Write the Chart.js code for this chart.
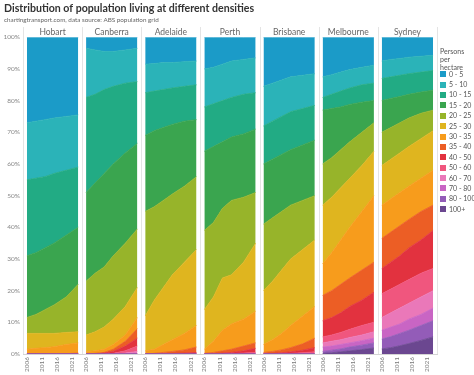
<!DOCTYPE html>
<html>
<head>
<meta charset="utf-8">
<script src="https://cdn.jsdelivr.net/npm/chart.js@4/dist/chart.umd.min.js"></script>
<style>
  body { margin: 0; background: #fff; }
  #wrap { position: relative; width: 474px; height: 375px; }
  #legend { position: absolute; left: 440px; top: 46.7px; font-family: Lato, sans-serif; font-size: 7px; color: #555; }
  #legend .ttl { line-height: 8px; margin-bottom: -2px; }
  #legend .row { height: 10.4px; line-height: 10.4px; white-space: nowrap; }
  #legend .sw { display: inline-block; width: 6px; height: 6px; margin-right: 3px; vertical-align: -0.5px; }
</style>
</head>
<body>
<div id="wrap">
  <canvas id="chart" width="474" height="375"></canvas>
  <div id="legend"></div>
</div>
<script>
var cities = ['Hobart', 'Canberra', 'Adelaide', 'Perth', 'Brisbane', 'Melbourne', 'Sydney'];
var bands = ['0 - 5', '5 - 10', '10 - 15', '15 - 20', '20 - 25', '25 - 30', '30 - 35', '35 - 40', '40 - 50', '50 - 60', '60 - 70', '70 - 80', '80 - 100', '100+'];
var bandColors = ['#1b9bc8', '#2bb3b8', '#22ab84', '#3aa54f', '#97b42a', '#dfb51f', '#f79c1c', '#ec5e25', '#e2323f', '#f0567e', '#ea78b9', '#c965c4', '#935cb8', '#6b4790'];
var years = [2006, 2009, 2012, 2015, 2019, 2023];
var yearTicks = ['2006', '2011', '2016', '2021'];

// % of population living above 5, 10, 15, 20, 25, 30, 35, 40, 50, 60, 70, 80, 100 persons/ha
var hobart = [
  [73, 73.5, 74, 74.5, 75, 75.5],
  [55, 55.5, 56, 57, 58, 59],
  [31, 32, 33.5, 35, 37.5, 40],
  [11.5, 12.5, 14, 15.5, 18, 22],
  [6.5, 6.5, 6.5, 6.5, 6.8, 7],
  [1.5, 1.8, 2, 2.3, 3, 3.5],
  [0, 0, 0, 0, 0.1, 0.3],
  [0, 0, 0, 0, 0, 0], [0, 0, 0, 0, 0, 0], [0, 0, 0, 0, 0, 0],
  [0, 0, 0, 0, 0, 0], [0, 0, 0, 0, 0, 0], [0, 0, 0, 0, 0, 0]
];
var canberra = [
  [96.5, 96, 95.5, 95.5, 96, 96.5],
  [81, 82, 83.5, 84.5, 85.5, 86],
  [51, 54, 57, 60, 63.5, 66.5],
  [23, 25.5, 27.5, 31, 35, 39.5],
  [6, 7, 8.5, 11, 15, 21],
  [0.8, 1, 1.5, 3, 6, 11.5],
  [0, 0.2, 0.5, 1.5, 4, 8],
  [0, 0, 0.3, 0.8, 2.5, 5],
  [0, 0, 0, 0.2, 1, 2.5],
  [0, 0, 0, 0, 0.3, 0.8],
  [0, 0, 0, 0, 0, 0], [0, 0, 0, 0, 0, 0], [0, 0, 0, 0, 0, 0]
];
var adelaide = [
  [91.5, 91.7, 92, 92, 92.3, 92.5],
  [82.5, 83, 83.5, 84, 84.5, 85],
  [69, 70.5, 71.5, 72.5, 73.5, 74],
  [45, 46.5, 48.5, 50.5, 53, 56],
  [12, 17, 21, 25, 29, 33],
  [1, 1.5, 3, 4.5, 6.5, 9],
  [0, 0.2, 0.5, 0.8, 1.3, 2.2],
  [0, 0, 0, 0.2, 0.3, 0.5],
  [0, 0, 0, 0, 0, 0], [0, 0, 0, 0, 0, 0], [0, 0, 0, 0, 0, 0],
  [0, 0, 0, 0, 0, 0], [0, 0, 0, 0, 0, 0]
];
var perth = [
  [90, 90.5, 91.5, 92.5, 93, 93.5],
  [78, 79, 80, 81, 82, 82.5],
  [64, 65.5, 67, 68.5, 69.5, 71],
  [39, 41.5, 46, 48.5, 49.5, 51],
  [14, 18, 24, 25, 29, 35],
  [1.5, 4, 7.5, 9.5, 11, 13.5],
  [0.2, 0.5, 1, 1.5, 2.5, 3.5],
  [0, 0, 0.3, 0.5, 1, 1.8],
  [0, 0, 0, 0.1, 0.3, 0.5],
  [0, 0, 0, 0, 0, 0], [0, 0, 0, 0, 0, 0], [0, 0, 0, 0, 0, 0], [0, 0, 0, 0, 0, 0]
];
var brisbane = [
  [84.5, 85.5, 86.5, 87.5, 88, 88.5],
  [72, 73.5, 75, 76.5, 77.5, 78.5],
  [60, 61.5, 63, 64.5, 66, 67.5],
  [41, 43, 45, 47, 48.5, 50],
  [20, 23, 26.5, 30, 33, 36],
  [3, 4.5, 6.5, 9, 12, 15],
  [0.5, 0.8, 1.3, 2, 3.2, 5],
  [0.1, 0.2, 0.4, 0.7, 1.2, 2],
  [0, 0, 0.1, 0.2, 0.4, 0.7],
  [0, 0, 0, 0, 0, 0], [0, 0, 0, 0, 0, 0], [0, 0, 0, 0, 0, 0], [0, 0, 0, 0, 0, 0]
];
var melbourne = [
  [87.5, 88.2, 89, 89.8, 90.5, 91.2],
  [81, 82, 83, 84, 85, 85.5],
  [77, 77.5, 78, 78.8, 79.5, 80],
  [60, 62, 64.5, 67, 70, 73],
  [47, 49.5, 52.5, 55.5, 59.5, 64],
  [28.5, 32, 36, 40, 45, 50],
  [18.5, 20, 22, 24, 26.5, 29],
  [10.5, 11.5, 13, 15, 17, 19.5],
  [5.4, 6, 6.8, 7.8, 9, 10],
  [3.5, 4, 4.5, 5.2, 6, 7],
  [2.2, 2.5, 3, 3.5, 4.2, 5],
  [0.8, 1.2, 1.6, 2.2, 2.8, 3.5],
  [0.2, 0.4, 0.7, 1, 1.4, 1.9]
];
var sydney = [
  [92.5, 93, 93.3, 93.7, 94, 94.3],
  [87, 87.5, 88, 88.5, 89, 89.5],
  [80, 80.7, 81.3, 82, 82.7, 83.3],
  [70, 71.5, 73, 74.5, 76, 77],
  [59.5, 61.5, 63.5, 65.5, 68, 70.5],
  [47, 49, 51, 53, 55.5, 58],
  [36.5, 38.5, 40.5, 42.5, 45, 47],
  [27, 29, 31, 33.5, 36, 39],
  [19, 20.5, 22, 23.5, 25.5, 27],
  [11.5, 13, 14.5, 16, 18, 20],
  [7.5, 8.5, 9.5, 11, 12.5, 14.5],
  [4.7, 5.5, 6.5, 7.5, 9, 10.5],
  [1.6, 2, 2.6, 3.3, 4.3, 5.4]
];
var cityData = [hobart, canberra, adelaide, perth, brisbane, melbourne, sydney];
var total = [100, 100, 100, 100, 100, 100];

// each panel spans 2006-2023 on one shared linear x axis, panels offset by pitch
var pitch = 19.6;
var span = 17;
function xOf(ci, year) { return ci * pitch + (year - 2006); }

function bandSet(ci, bi) {
  var upper = bi == 0 ? total : cityData[ci][bi - 1];
  return {
    label: bands[bi],
    data: years.map(function(y, k) { return { x: xOf(ci, y), y: upper[k] }; }),
    borderColor: bandColors[bi],
    backgroundColor: bandColors[bi],
    borderWidth: 0.8,
    pointRadius: 0,
    tension: 0,
    fill: bi == bands.length - 1 ? 'origin' : '-1'
  };
}

var datasets = [];
for (var ci = 0; ci < cities.length; ci++) {
  // bottom band (100+) first, each band fills down to the one below it
  for (var bi = bands.length - 1; bi >= 0; bi--) datasets.push(bandSet(ci, bi));
}

var panelLines = {
  id: 'panelLines',
  beforeDatasetsDraw: function(chart) {
    var ctx = chart.ctx, sx = chart.scales.x;
    ctx.save();
    ctx.strokeStyle = '#e4e4e4';
    ctx.lineWidth = 1;
    for (var i = 0; i <= cities.length; i++) {
      var px = Math.round(sx.getPixelForValue(i * pitch - (pitch - span) / 2)) + 0.5;
      ctx.beginPath();
      ctx.moveTo(px, 27);
      ctx.lineTo(px, chart.chartArea.bottom);
      ctx.stroke();
    }
    ctx.restore();
  }
};

var xMin = -(pitch - span) / 2;
var xMax = (cities.length - 1) * pitch + span + (pitch - span) / 2;
var noGrid = { display: false, drawTicks: false, tickLength: 0 };

new Chart(document.getElementById('chart'), {
  type: 'line',
  data: { datasets: datasets },
  options: {
    responsive: false,
    animation: false,
    devicePixelRatio: 1,
    layout: { padding: { left: 4, right: 37, top: 0, bottom: 0 } },
    plugins: {
      legend: { display: false },
      tooltip: { enabled: false },
      title: {
        display: true, align: 'start', color: '#333',
        text: 'Distribution of population living at different densities',
        font: { family: 'Lato', size: 10.6, weight: 'bold' },
        padding: { top: 2, bottom: 0 }
      },
      subtitle: {
        display: true, align: 'start', color: '#666',
        text: 'chartingtransport.com, data source: ABS population grid',
        font: { family: 'Lato', size: 6.3 },
        padding: { top: 1, bottom: 0 }
      }
    },
    scales: {
      x: {
        type: 'linear', min: xMin, max: xMax,
        grid: noGrid,
        border: { display: true, color: '#d4d4d4' },
        ticks: {
          autoSkip: false, minRotation: 90, maxRotation: 90, padding: 3,
          color: '#777', font: { family: 'Lato', size: 6.5 },
          callback: function(v, i) { return yearTicks[i % yearTicks.length]; }
        },
        afterBuildTicks: function(s) {
          s.ticks = [];
          cities.forEach(function(c, ci) {
            yearTicks.forEach(function(y) { s.ticks.push({ value: xOf(ci, +y) }); });
          });
        },
        afterFit: function(s) { s.height = 21; }
      },
      x2: {
        type: 'linear', position: 'top', min: xMin, max: xMax,
        grid: noGrid,
        border: { display: false },
        ticks: {
          autoSkip: false, maxRotation: 0, padding: 0,
          color: '#666', font: { family: 'Lato', size: 8.5 },
          callback: function(v, i) { return cities[i]; }
        },
        afterBuildTicks: function(s) {
          s.ticks = cities.map(function(c, ci) { return { value: xOf(ci, 2006 + span / 2) }; });
        },
        afterFit: function(s) { s.height = 14; }
      },
      y: {
        min: 0, max: 100,
        grid: noGrid,
        border: { display: false },
        ticks: {
          stepSize: 10, padding: 3, color: '#888', font: { family: 'Lato', size: 6.5 },
          callback: function(v) { return v + '%'; }
        },
        afterFit: function(s) { s.width = 19; }
      }
    }
  },
  plugins: [panelLines]
});

// legend, same look as the tableau colour legend
var lg = document.getElementById('legend');
var html = '<div class="ttl">Persons<br>per<br>hectare</div>';
for (var i = 0; i < bands.length; i++) {
  html += '<div class="row"><span class="sw" style="background:' + bandColors[i] + '"></span>' + bands[i] + '</div>';
}
lg.innerHTML = html;
</script>
</body>
</html>
